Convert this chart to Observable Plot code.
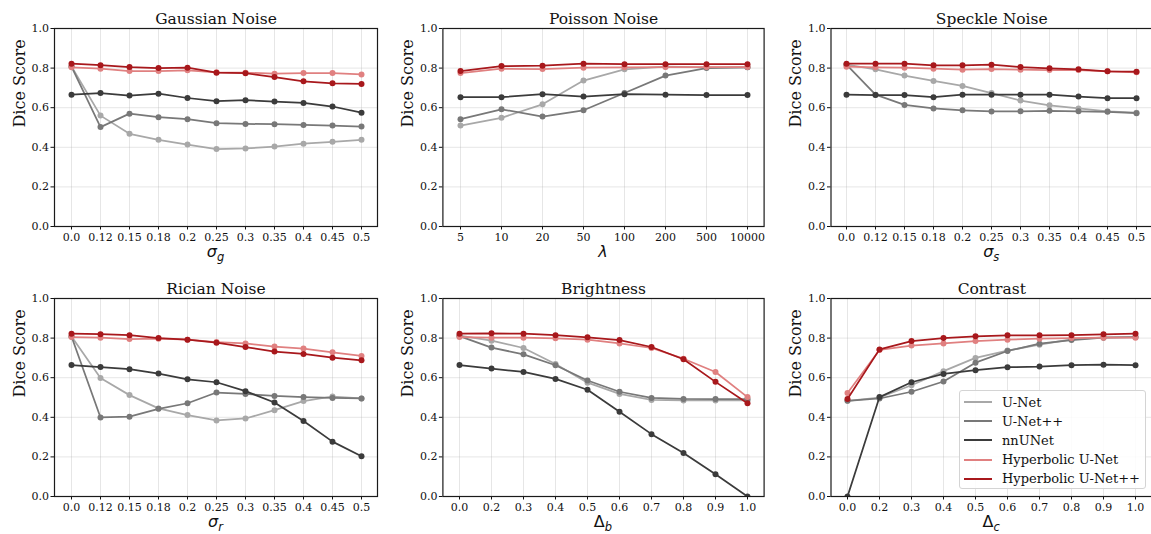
<!DOCTYPE html>
<html>
<head>
<meta charset="utf-8">
<script src="https://cdn.jsdelivr.net/npm/d3@7"></script>
<script src="https://cdn.jsdelivr.net/npm/@observablehq/plot@0.6"></script>
<style>
  body { margin: 0; background: #fff; }
  #wrap { position: relative; width: 1151px; height: 534px; overflow: hidden; background: #fff; }
  #wrap svg { position: absolute; overflow: visible; }
  #legend { position: absolute; left: 959px; top: 390px; width: 187px; height: 99px;
    border: 1px solid #d4d4d4; border-radius: 3px; background: rgba(255,255,255,0.85);
    font-family: "DejaVu Serif", serif; font-size: 13px; color: #111; z-index: 5; box-sizing: border-box; }
  .lg-row { position: absolute; left: 0; height: 18px; display: flex; align-items: center; }
  .lg-sw { display: inline-block; width: 28px; height: 2px; margin-left: 4px; margin-right: 10px; }
</style>
</head>
<body>
<div id="wrap"></div>
<script>
// ---------------- data ----------------
const models = ["U-Net", "U-Net++", "nnUNet", "Hyperbolic U-Net", "Hyperbolic U-Net++"];
const modelColors = ["#a8a8a8", "#787878", "#3b3b3b", "#e08080", "#a8181c"];

const sigmaLevels = ["0.0","0.12","0.15","0.18","0.2","0.25","0.3","0.35","0.4","0.45","0.5"];
const lambdaLevels = ["5","10","20","50","100","200","500","10000"];
const deltaLevels = ["0.0","0.2","0.3","0.4","0.5","0.6","0.7","0.8","0.9","1.0"];
const yTicks = [0, 0.2, 0.4, 0.6, 0.8, 1.0];

const gaussian_UNet      = [0.808, 0.560, 0.468, 0.438, 0.414, 0.391, 0.394, 0.404, 0.418, 0.428, 0.438];
const gaussian_UNetPP    = [0.808, 0.502, 0.570, 0.552, 0.542, 0.522, 0.518, 0.517, 0.513, 0.510, 0.505];
const gaussian_nnUNet    = [0.666, 0.674, 0.661, 0.671, 0.649, 0.633, 0.638, 0.631, 0.624, 0.606, 0.575];
const gaussian_HypUNet   = [0.804, 0.797, 0.785, 0.785, 0.789, 0.779, 0.777, 0.772, 0.775, 0.775, 0.768];
const gaussian_HypUNetPP = [0.822, 0.815, 0.805, 0.800, 0.802, 0.777, 0.774, 0.755, 0.733, 0.723, 0.720];

const poisson_UNet      = [0.510, 0.549, 0.617, 0.737, 0.794, 0.807, 0.804, 0.804];
const poisson_UNetPP    = [0.542, 0.592, 0.555, 0.587, 0.674, 0.762, 0.800, 0.804];
const poisson_nnUNet    = [0.653, 0.653, 0.668, 0.656, 0.668, 0.666, 0.664, 0.664];
const poisson_HypUNet   = [0.775, 0.797, 0.795, 0.802, 0.804, 0.805, 0.805, 0.805];
const poisson_HypUNetPP = [0.785, 0.810, 0.812, 0.822, 0.820, 0.820, 0.820, 0.820];

const speckle_UNet      = [0.817, 0.794, 0.762, 0.735, 0.710, 0.674, 0.636, 0.612, 0.596, 0.582, 0.575];
const speckle_UNetPP    = [0.817, 0.666, 0.614, 0.596, 0.587, 0.581, 0.582, 0.584, 0.582, 0.579, 0.572];
const speckle_nnUNet    = [0.666, 0.664, 0.664, 0.653, 0.666, 0.666, 0.666, 0.666, 0.656, 0.648, 0.648];
const speckle_HypUNet   = [0.807, 0.804, 0.802, 0.797, 0.792, 0.795, 0.792, 0.790, 0.790, 0.784, 0.779];
const speckle_HypUNetPP = [0.822, 0.822, 0.822, 0.814, 0.814, 0.817, 0.805, 0.799, 0.794, 0.784, 0.782];

const rician_UNet      = [0.808, 0.599, 0.512, 0.445, 0.411, 0.384, 0.394, 0.436, 0.482, 0.505, 0.495];
const rician_UNetPP    = [0.808, 0.399, 0.403, 0.443, 0.471, 0.525, 0.518, 0.508, 0.502, 0.498, 0.495];
const rician_nnUNet    = [0.664, 0.654, 0.643, 0.621, 0.592, 0.577, 0.532, 0.475, 0.381, 0.277, 0.203];
const rician_HypUNet   = [0.805, 0.802, 0.795, 0.797, 0.792, 0.780, 0.773, 0.757, 0.747, 0.728, 0.710];
const rician_HypUNetPP = [0.822, 0.820, 0.815, 0.800, 0.792, 0.777, 0.755, 0.732, 0.720, 0.701, 0.688];

const brightness_UNet      = [0.812, 0.787, 0.750, 0.669, 0.575, 0.518, 0.488, 0.485, 0.485, 0.485];
const brightness_UNetPP    = [0.810, 0.752, 0.718, 0.663, 0.586, 0.529, 0.498, 0.493, 0.492, 0.492];
const brightness_nnUNet    = [0.664, 0.646, 0.629, 0.594, 0.539, 0.428, 0.315, 0.220, 0.112, 0.000];
const brightness_HypUNet   = [0.805, 0.802, 0.802, 0.799, 0.792, 0.773, 0.750, 0.696, 0.629, 0.502];
const brightness_HypUNetPP = [0.822, 0.824, 0.822, 0.815, 0.804, 0.790, 0.755, 0.693, 0.579, 0.471];

const contrast_UNet      = [0.483, 0.500, 0.562, 0.633, 0.700, 0.737, 0.767, 0.794, 0.804, 0.805];
const contrast_UNetPP    = [0.483, 0.495, 0.529, 0.581, 0.676, 0.735, 0.772, 0.790, 0.802, 0.805];
const contrast_nnUNet    = [0.000, 0.502, 0.577, 0.619, 0.638, 0.653, 0.656, 0.663, 0.666, 0.663];
const contrast_HypUNet   = [0.523, 0.740, 0.762, 0.773, 0.785, 0.792, 0.797, 0.800, 0.802, 0.802];
const contrast_HypUNetPP = [0.492, 0.743, 0.785, 0.800, 0.809, 0.814, 0.814, 0.815, 0.819, 0.822];

// ---------------- panels ----------------
const panels = [
  {title: "Gaussian Noise", levels: sigmaLevels, label: {main: "σ", italic: true, sub: "g"},
   series: [gaussian_UNet, gaussian_UNetPP, gaussian_nnUNet, gaussian_HypUNet, gaussian_HypUNetPP]},
  {title: "Poisson Noise", levels: lambdaLevels, label: {main: "λ", italic: true, sub: null},
   series: [poisson_UNet, poisson_UNetPP, poisson_nnUNet, poisson_HypUNet, poisson_HypUNetPP]},
  {title: "Speckle Noise", levels: sigmaLevels, label: {main: "σ", italic: true, sub: "s"},
   series: [speckle_UNet, speckle_UNetPP, speckle_nnUNet, speckle_HypUNet, speckle_HypUNetPP]},
  {title: "Rician Noise", levels: sigmaLevels, label: {main: "σ", italic: true, sub: "r"},
   series: [rician_UNet, rician_UNetPP, rician_nnUNet, rician_HypUNet, rician_HypUNetPP]},
  {title: "Brightness", levels: deltaLevels, label: {main: "Δ", italic: false, sub: "b"},
   series: [brightness_UNet, brightness_UNetPP, brightness_nnUNet, brightness_HypUNet, brightness_HypUNetPP]},
  {title: "Contrast", levels: deltaLevels, label: {main: "Δ", italic: false, sub: "c"},
   series: [contrast_UNet, contrast_UNetPP, contrast_nnUNet, contrast_HypUNet, contrast_HypUNetPP]}
];

const cols = [
  {left: 0,   width: 385, ml: 54,   mr: 8},
  {left: 385, width: 385, ml: 57.4, mr: 6.4},
  {left: 770, width: 382, ml: 60.5, mr: 0}
];
const rows = [
  {top: 0,   height: 270, mt: 28, mb: 44},
  {top: 270, height: 264, mt: 28, mb: 38}
];

const wrap = document.getElementById("wrap");

panels.forEach((p, i) => {
  const c = cols[i % 3], r = rows[Math.floor(i / 3)];
  const n = p.levels.length;
  const data = [];
  p.series.forEach((vals, k) => vals.forEach((v, j) => data.push({model: models[k], level: p.levels[j], value: v})));

  const marks = [
    Plot.gridX(p.levels, {stroke: "#b0b0b0", strokeOpacity: 0.32, strokeWidth: 1}),
    Plot.gridY(yTicks, {stroke: "#b0b0b0", strokeOpacity: 0.32, strokeWidth: 1}),
    Plot.axisX(p.levels, {tickSize: 3.5, tickPadding: 3, fontSize: 11, label: null, stroke: "#111"}),
    Plot.axisY(yTicks, {tickSize: 3.5, tickPadding: 2, fontSize: 11, label: null, tickFormat: d3.format(".1f"), stroke: "#111"})
  ];
  models.forEach((m) => {
    const sub = data.filter(d => d.model === m);
    marks.push(Plot.line(sub, {x: "level", y: "value", stroke: "model", strokeWidth: 1.75, clip: true}));
    marks.push(Plot.dot(sub, {x: "level", y: "value", fill: "model", r: 3, clip: true}));
  });
  marks.push(Plot.frame({stroke: "#1a1a1a", strokeWidth: 1.2}));
  marks.push(Plot.text([p.title], {frameAnchor: "top", dy: -5, lineAnchor: "bottom", fontSize: 15.5, fill: "#111"}));
  marks.push(Plot.text(["Dice Score"], {frameAnchor: "left", rotate: -90, dx: -35, lineAnchor: "middle", fontSize: 16, fill: "#111"}));

  const chart = Plot.plot({
    width: c.width, height: r.height,
    marginLeft: c.ml, marginRight: c.mr, marginTop: r.mt, marginBottom: r.mb,
    style: {fontFamily: "'DejaVu Serif', serif", fontSize: "11px", color: "#111", background: "transparent", overflow: "visible"},
    x: {type: "point", domain: p.levels, padding: 0.05 * (n - 1)},
    y: {domain: [0, 1]},
    color: {domain: models, range: modelColors},
    marks
  });
  chart.style.left = c.left + "px";
  chart.style.top = r.top + "px";
  wrap.appendChild(chart);

  // x-axis math label
  const cx = c.ml + (c.width - c.ml - c.mr) / 2;
  const yb = r.height - r.mb + 31;
  const t = d3.select(chart).append("text")
    .attr("x", cx).attr("y", yb).attr("text-anchor", "middle")
    .attr("font-family", "'DejaVu Sans', sans-serif").attr("font-size", 16).attr("fill", "#111");
  t.append("tspan").attr("font-style", p.label.italic ? "italic" : "normal").text(p.label.main);
  if (p.label.sub) {
    t.append("tspan").attr("font-style", "italic").attr("font-size", 11.5).attr("dy", 3.5).text(p.label.sub);
  }
});

// legend
const legend = document.createElement("div");
legend.id = "legend";
models.forEach((m, k) => {
  const row = document.createElement("div");
  row.className = "lg-row";
  row.style.top = (2 + k * 19.2) + "px";
  const sw = document.createElement("span");
  sw.className = "lg-sw";
  sw.style.background = modelColors[k];
  const tx = document.createElement("span");
  tx.textContent = m;
  row.appendChild(sw); row.appendChild(tx);
  legend.appendChild(row);
});
wrap.appendChild(legend);
</script>
</body>
</html>
